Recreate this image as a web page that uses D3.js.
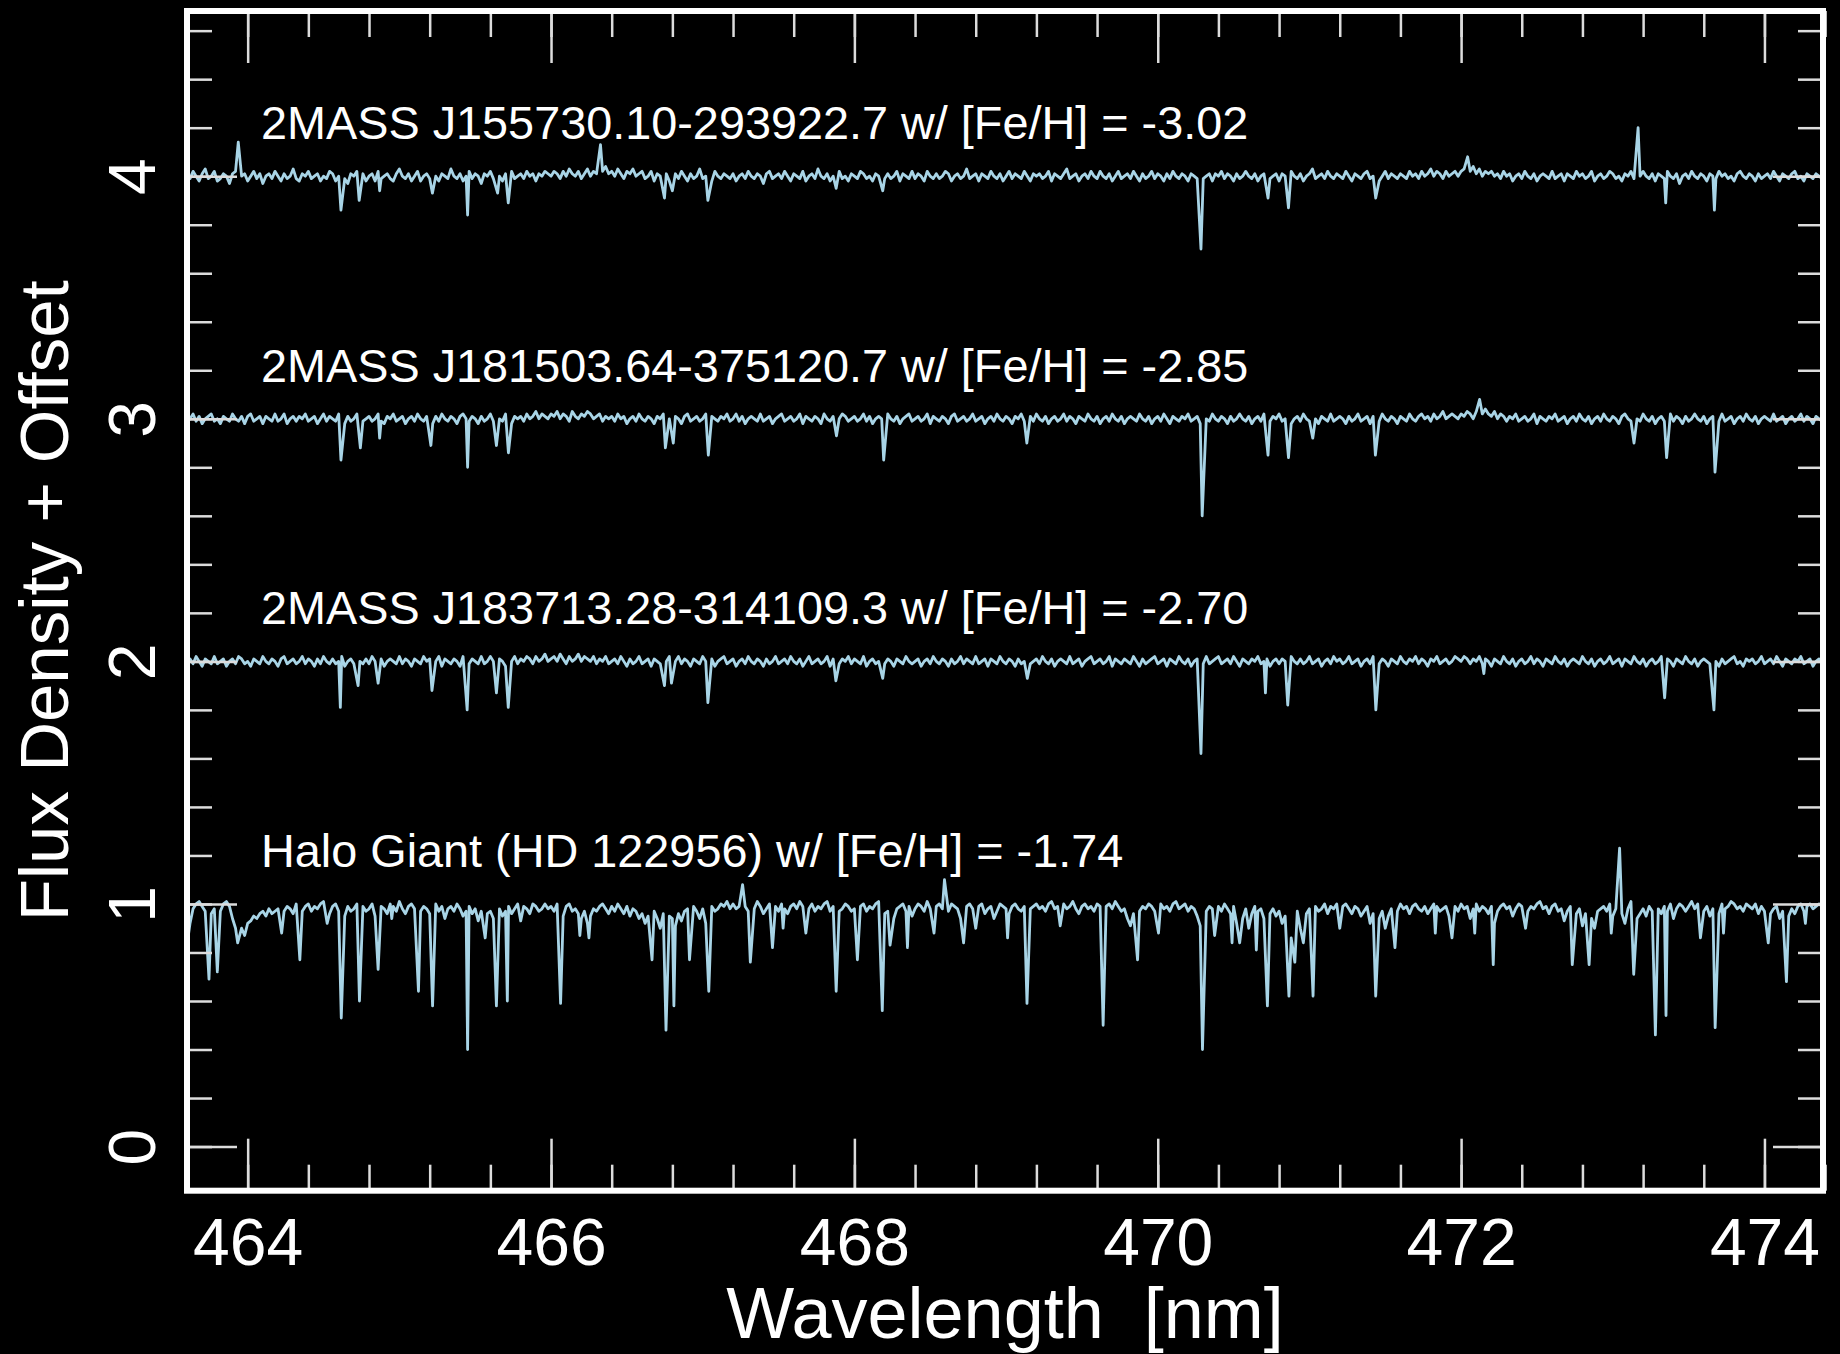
<!DOCTYPE html>
<html>
<head>
<meta charset="utf-8">
<script src="https://cdn.jsdelivr.net/npm/d3@7"></script>
<style>
  body { margin: 0; background: #000; }
  text { font-family: "Liberation Sans", Arial, Helvetica, sans-serif; fill: #fff; }
</style>
</head>
<body>
<script>
// Sampling grid of the continuum (nm)
const gridStart = 463.6, gridStep = 0.02;

// vertical offset of each spectrum
const offsets = [3, 2, 1, 0];

const starLabels = [
    '2MASS J155730.10-293922.7 w/ [Fe/H] = -3.02',
    '2MASS J181503.64-375120.7 w/ [Fe/H] = -2.85',
    '2MASS J183713.28-314109.3 w/ [Fe/H] = -2.70',
    'Halo Giant (HD 122956) w/ [Fe/H] = -1.74'
];

// continuum flux on the grid, in % deviation from 1 (one row = 0.4 nm)
const noiseJ1557 = [
    1,-1,2,0,-2,1,3,-1,0,2,-2,-1,1,0,-3,1,2,-1,0,1,
    -2,0,2,-1,1,-3,0,1,-1,2,0,-2,1,-1,0,3,-1,-2,1,0,
    2,-1,0,1,-2,0,-1,2,1,-2,0,1,-1,-3,1,0,2,-1,1,-2,
    0,1,-2,2,-1,0,1,-1,-2,1,3,0,-1,1,-2,0,2,-2,0,1,
    -1,2,0,-2,1,0,-1,3,0,-1,1,-2,0,2,-1,1,0,-3,1,0,
    2,-1,1,0,-2,1,0,2,-1,0,1,-1,2,0,1,-2,1,0,2,1,
    0,2,1,-1,2,0,3,1,0,2,-1,1,3,0,2,1,-1,2,4,1,
    2,0,3,1,-1,2,1,3,0,1,2,-1,0,2,-2,1,0,-1,1,-2,
    0,1,-1,2,0,-2,1,-1,0,3,-1,0,1,-2,2,0,-1,1,0,-1,
    1,-2,0,1,-1,2,0,-1,1,0,-3,1,2,-1,0,1,-1,2,0,-2,
    1,0,-1,2,-2,0,1,-1,3,0,-1,1,-2,0,1,2,-1,0,-2,1,
    0,-1,2,1,-1,0,-2,1,0,2,-1,1,-1,0,2,-2,1,0,-1,2,
    -1,1,0,-2,2,0,-1,1,-1,0,2,1,-2,0,1,-1,0,3,-1,0,
    1,-2,1,0,-1,2,0,-1,1,-2,0,2,-1,1,0,-1,2,0,-2,1,
    0,1,-1,0,2,-2,1,0,-1,1,3,-1,0,1,-2,0,1,-1,2,0,
    -1,2,0,-1,1,-2,0,2,-1,0,1,-1,2,0,-2,1,-1,0,2,-1,
    1,0,-2,1,-1,2,0,-1,1,0,-2,1,0,-1,2,-1,0,1,-2,1,
    0,2,-1,1,0,-2,1,-1,0,2,0,-1,1,-2,0,1,2,-1,0,1,
    -2,1,0,-1,2,0,-1,1,-2,0,1,3,-1,0,1,-1,2,0,-1,1,
    0,-1,2,0,-2,1,0,-1,1,2,-1,0,1,-2,0,2,-1,1,0,-1,
    1,0,-1,2,0,1,-1,2,0,1,3,0,2,1,-1,2,0,1,2,0,
    2,3,1,2,4,1,3,0,2,1,2,0,1,-1,2,0,1,-2,0,1,
    -1,2,0,-1,1,-2,0,1,0,-1,2,-1,0,1,-2,1,0,-1,2,0,
    1,-1,0,2,-2,0,1,-1,0,2,1,-1,0,-2,1,0,2,-1,1,0,
    2,0,-1,1,-2,1,0,-1,2,0,-1,1,-3,0,1,-1,2,0,-1,1,
    0,-2,1,0,-1,2,0,1,-1,0,-2,1,2,0,-1,1,0,-2,1,-1,
    0,1,-1,2,0,-2,1,0,-1,1,2,-1,0,-2,1,0,-1,1,0,-1,
    0
];
const noiseJ1815 = [
    -1,0,2,-1,1,-2,0,1,2,-1,0,-2,1,0,-1,2,0,-1,1,-2,
    1,2,-1,0,1,-2,1,0,-1,2,-1,0,2,-2,0,1,-1,1,0,2,
    -1,0,1,-2,0,2,-1,1,0,-1,2,0,-2,1,-1,0,2,1,-1,0,
    1,-1,0,2,-1,-2,1,0,2,-1,0,1,-2,0,1,-1,2,0,-1,1,
    0,-2,1,-1,2,0,-1,1,0,-2,1,2,0,-1,1,0,-2,1,-1,0,
    2,-1,1,0,-1,2,0,-2,1,0,1,-1,2,0,1,3,0,2,1,0,
    2,1,3,0,2,1,-1,3,1,0,2,1,3,2,0,1,2,-1,1,0,
    1,-1,2,0,1,-2,0,1,-1,2,0,-1,1,0,-2,1,0,2,-1,0,
    -1,1,0,-2,1,2,-1,0,1,-1,0,2,-2,1,0,-1,1,0,2,-1,
    0,2,-1,1,-2,0,1,0,-1,2,-1,0,1,-2,0,1,2,-1,0,1,
    -1,0,2,-2,1,0,-1,1,0,-2,2,0,-1,1,-1,0,2,1,-1,0,
    1,-1,0,2,-1,1,-2,0,1,0,-1,2,0,-1,1,-2,0,1,2,-1,
    0,1,-1,0,2,-2,1,0,-1,1,0,-2,1,2,-1,0,1,-1,0,2,
    -1,0,1,-2,0,1,-1,2,0,-1,1,0,-2,1,0,2,-1,0,1,-1,
    2,0,-1,1,-2,0,1,-1,0,2,-1,1,0,-2,1,0,-1,2,0,-1,
    1,-2,0,1,-1,2,0,-1,1,-2,0,1,0,-1,2,0,-1,1,-2,0,
    1,-1,2,0,-2,1,0,-1,1,0,2,-1,0,1,-2,1,0,-1,2,0,
    -1,1,0,-2,1,-1,0,2,0,-1,1,-2,0,1,-1,2,0,-1,1,0,
    2,-1,0,1,-2,0,1,-1,2,0,-1,1,0,-2,1,0,-1,2,-1,0,
    1,0,-2,1,-1,0,2,-1,0,1,-2,1,0,-1,2,0,-1,1,0,-2,
    1,0,-1,2,0,-1,1,2,0,1,-1,2,0,1,3,0,1,2,1,0,
    2,1,3,2,0,3,1,2,4,2,1,3,0,2,1,-1,1,0,2,-1,
    0,1,-1,0,2,-2,1,0,-1,1,0,2,-1,0,1,-2,0,1,-1,2,
    0,-1,1,-2,0,1,-1,2,0,-1,1,0,-2,1,2,0,-1,1,0,-1,
    2,0,-1,1,-2,0,1,-1,0,2,-1,1,0,-2,1,-1,0,2,0,-1,
    1,-2,0,1,0,-1,2,-1,0,1,-2,0,1,-1,2,0,-1,1,-2,0,
    1,0,-1,2,-1,0,1,-2,0,1,-1,0,2,-1,1,0,-2,1,0,-1,
    0
];
const noiseJ1837 = [
    0,1,-1,2,0,-2,1,0,-1,2,-1,0,1,-2,0,1,-1,2,1,-1,
    0,-2,1,0,-1,2,0,-1,1,0,-2,1,2,-1,0,1,-1,0,2,-1,
    1,0,-2,1,-1,2,0,-1,1,-1,0,2,-2,0,1,-1,2,0,-1,1,
    -1,2,0,-1,1,-2,0,1,0,-1,2,-1,1,0,-2,1,0,-1,2,0,
    1,-1,0,2,-2,1,0,-1,1,0,-2,2,0,-1,1,0,-1,2,-1,0,
    2,0,-1,1,0,-2,1,0,2,-1,1,0,2,1,-1,2,0,1,3,0,
    1,2,0,3,1,-1,2,0,1,3,0,2,1,0,2,-1,1,0,2,-1,
    0,1,-1,2,0,-2,1,-1,0,2,-1,0,1,-2,1,0,-1,1,0,2,
    -1,0,2,-1,1,0,-2,1,0,-1,2,0,-1,1,-2,0,1,2,-1,0,
    1,-2,0,1,-1,2,0,-1,1,0,-2,1,-1,0,2,-1,0,1,-1,2,
    0,-1,1,-2,0,2,-1,0,1,-1,0,2,-2,1,0,-1,1,0,2,-1,
    1,0,-1,2,-2,0,1,-1,0,2,-1,1,0,-2,1,0,-1,2,0,-1,
    0,1,-2,0,1,-1,2,0,-1,1,0,-2,1,-1,0,2,-1,1,0,-1,
    2,-1,0,1,-2,1,0,-1,2,0,-1,1,0,-2,1,-1,0,2,-1,0,
    1,-1,2,0,-1,1,-2,0,1,0,-1,2,-1,0,1,-2,0,1,2,-1,
    0,1,-1,0,2,-2,1,0,-1,1,0,-1,2,0,-2,1,-1,0,1,2,
    -1,0,1,-2,1,0,-1,2,0,-1,1,-2,0,1,0,-1,2,-1,0,1,
    2,-1,0,1,-1,2,0,-2,1,0,-1,1,0,2,-1,0,1,-2,0,1,
    -1,1,0,-2,2,0,-1,1,-1,0,2,-1,0,1,-2,0,1,-1,2,0,
    1,-1,0,2,-1,0,1,-2,0,1,-1,2,0,-1,1,0,-2,1,0,-1,
    2,0,-1,1,0,2,-1,1,0,-2,1,0,2,-1,0,1,-1,0,2,1,
    0,2,1,-1,1,0,2,-1,1,0,-2,1,0,-1,2,0,-1,1,-2,0,
    1,-1,0,2,-1,1,0,-2,1,0,-1,2,0,-1,1,-2,0,1,0,-1,
    2,0,-1,1,-2,0,1,-1,0,2,-1,0,1,-2,1,0,-1,2,0,-1,
    1,-2,0,1,-1,0,2,-1,1,0,-2,1,0,-1,2,0,-1,1,-2,0,
    1,0,-1,2,0,-2,1,-1,0,1,2,-1,0,-2,1,0,1,-1,0,2,
    -1,0,1,-1,2,0,-2,1,0,-1,1,0,2,-1,0,1,-2,0,1,-1,
    0
];
const noiseHD122956 = [
    -17,-8,-2,0,1,-1,-3,-5,-4,-2,-6,-3,0,1,-1,-6,-10,-12,-10,-9,
    -8,-7,-5,-6,-4,-3,-5,-2,-4,-3,-2,-6,-3,-1,-2,-4,0,-5,-3,-1,
    0,-3,-1,-2,0,1,-2,-4,-1,0,-3,-2,-5,-1,-3,-2,0,-4,-1,-3,
    -2,0,-5,-3,-1,-2,-4,0,-1,-3,1,-2,-4,-1,0,-2,-6,-3,-1,-2,
    -4,-2,0,-3,-1,-5,-2,-1,-3,0,-2,-5,-3,-1,-4,-2,-7,-3,-2,-4,
    -3,-6,-4,-2,-5,-3,-1,-4,-2,0,-3,-1,-2,-4,0,-1,-3,-2,0,-2,
    -1,-3,0,-2,-5,-1,0,-3,-2,-4,-6,-3,-8,-5,-2,-3,-1,0,-2,-4,
    -1,-3,0,-2,-4,-1,-5,-2,-3,-6,-4,-8,-5,-9,-3,-6,-10,-4,-7,-5,
    -6,-9,-4,-7,-3,-2,-4,-1,-3,-6,-2,-8,-4,-1,-3,-2,0,-1,1,-2,
    0,-2,-1,2,-1,-3,0,-2,1,-1,-4,-2,0,-5,-1,-3,0,-2,-4,-1,
    0,-2,1,-1,-5,-2,0,-3,-1,-2,0,1,-3,-1,-6,-3,-2,0,-1,-3,
    -2,-4,-1,0,-3,-1,-2,0,1,-2,-4,-3,-1,-6,-2,-1,0,-3,-1,-5,
    -2,0,-1,-3,1,-2,-4,-1,0,-2,-5,-3,0,-1,-2,-6,-3,-1,0,-2,
    -3,-1,0,-4,-2,-1,-6,-3,0,-1,-2,-4,-1,0,-2,-3,-1,-5,-2,-1,
    0,-2,-1,-3,0,1,-2,-1,-3,0,-2,-1,1,-2,-4,-1,0,-2,-1,-3,
    0,-1,-3,-1,0,-2,1,-1,-3,-2,-6,-9,-4,-7,-3,-1,-2,0,-1,-3,
    -1,0,-2,-1,-3,0,1,-2,-1,0,-3,-1,-2,-5,-9,-6,-3,-1,-2,0,
    -1,-3,0,-2,-4,-1,-8,-16,-6,-2,-10,-4,-1,-3,-2,-6,-10,-4,-2,-5,
    -3,-8,-5,-4,-14,-6,-3,-10,-16,-4,-2,-6,-1,-3,-2,0,-4,-1,-2,0,
    -3,-1,0,-2,-4,-1,-2,-5,-3,-1,-8,-4,-2,-6,-3,-10,-5,-2,-1,-3,
    0,-2,-1,-4,-1,0,-2,-3,-1,-4,-2,0,-1,-3,-2,-1,-5,-2,-1,-3,
    0,-2,-1,-6,-2,0,-3,-1,-2,-4,-1,-8,-3,-1,0,-2,-1,-5,-2,0,
    -1,0,-3,-1,-2,0,1,-2,-1,-4,-1,0,-3,-2,-7,-3,-1,-5,-4,-2,
    -9,-4,-2,-6,-10,-3,-2,-1,-3,0,-5,-2,-1,-4,-8,-2,1,-3,-6,-4,
    -2,-5,-1,-3,0,-2,-4,-1,-3,0,-6,-2,0,-1,-3,-1,1,-2,0,-1,
    -3,-1,-5,-2,-1,-4,0,-2,-1,1,0,-2,-1,-3,0,-1,-2,0,-4,-1,
    -3,-8,-4,-2,-1,-6,-3,-9,-5,-2,-4,-1,0,-3,-1,0,-2,-1,0,-1,
    0
];

// absorption lines and spikes: [wavelength nm, flux %]
const linesJ1557 = [
    [463.938, 114], [464.615, 86], [464.735, 90], [464.87, 94], [465.218, 93],
    [465.45, 84], [465.648, 93], [465.718, 89], [466.326, 113], [466.748, 91],
    [466.80, 94], [467.034, 90], [467.88, 95], [468.187, 94], [470.285, 70],
    [470.727, 91], [470.862, 87], [471.437, 91], [472.043, 108], [473.167, 120],
    [473.349, 89], [473.67, 86]
];
const linesJ1815 = [
    [464.615, 83], [464.743, 88], [464.87, 92], [465.208, 89], [465.45, 80],
    [465.64, 89], [465.719, 86], [466.754, 88], [466.806, 90], [467.037, 85],
    [467.882, 93], [468.193, 83], [469.137, 90], [470.293, 60], [470.727, 85],
    [470.862, 84], [471.022, 92], [471.435, 85], [472.122, 108], [473.14, 90],
    [473.355, 84], [473.674, 78]
];
const linesJ1837 = [
    [464.611, 81], [464.728, 90], [464.86, 91], [465.215, 88], [465.447, 80],
    [465.64, 87], [465.718, 81], [466.748, 90], [466.794, 91], [467.034, 83],
    [467.878, 92], [468.187, 93], [469.14, 93], [470.285, 62], [470.71, 87],
    [470.857, 82], [471.438, 80], [472.15, 95], [473.342, 85], [473.667, 80]
];
const linesHD122956 = [
    [463.745, 69], [463.80, 72], [463.934, 84], [463.98, 87], [464.224, 88],
    [464.344, 77], [464.524, 92], [464.617, 53], [464.737, 60], [464.86, 73],
    [464.95, 94], [465.126, 64], [465.219, 58], [465.30, 94], [465.45, 40],
    [465.566, 86], [465.64, 58], [465.712, 60], [465.80, 93], [466.063, 59],
    [466.19, 87], [466.25, 86], [466.666, 77], [466.758, 48], [466.81, 58],
    [466.913, 77], [467.04, 64], [467.263, 108], [467.314, 76], [467.46, 82],
    [467.53, 90], [467.68, 88], [467.88, 64], [468.02, 77], [468.184, 56],
    [468.235, 83], [468.35, 82], [468.525, 88], [468.594, 110], [468.72, 84],
    [468.80, 90], [469.01, 86], [469.138, 59], [469.357, 91], [469.64, 50],
    [469.867, 77], [470.005, 88], [470.295, 40], [470.375, 87], [470.49, 84],
    [470.65, 81], [470.723, 58], [470.865, 62], [470.904, 76], [471.024, 62],
    [471.20, 90], [471.437, 62], [471.564, 82], [471.83, 88], [471.94, 86],
    [472.09, 88], [472.212, 75], [472.425, 90], [472.733, 75], [472.844, 75],
    [472.99, 88], [473.045, 123], [473.138, 71], [473.281, 46], [473.351, 54],
    [473.578, 86], [473.675, 49], [473.73, 88], [474.025, 84], [474.145, 68],
    [474.27, 92]
];

const xTickLabels = [464, 466, 468, 470, 472, 474];
const yTickLabels = [0, 1, 2, 3, 4];

const margin = { top: 11, right: 17, bottom: 163.3, left: 187 };
const width = 1840 - margin.left - margin.right;
const height = 1354 - margin.top - margin.bottom;

const svg = d3.select('body').append('svg')
    .attr('width', 1840)
    .attr('height', 1354)
    .style('display', 'block');

svg.append('rect').attr('width', 1840).attr('height', 1354).attr('fill', '#000');

const g = svg.append('g')
    .attr('transform', `translate(${margin.left},${margin.top})`);

const xScale = d3.scaleLinear().domain([463.60, 474.386]).range([0, width]);
const yScale = d3.scaleLinear().domain([-0.182, 4.681]).range([height, 0]);

svg.append('defs').append('clipPath').attr('id', 'plot')
    .append('rect').attr('width', width).attr('height', height);

// merge the continuum grid with the line points
function buildSeries(noise, lines) {
    const grid = noise.map((d, i) => [gridStart + i * gridStep, 1 + d / 100])
        .filter(p => !lines.some(l => Math.abs(l[0] - p[0]) < 0.008));
    return grid.concat(lines.map(l => [l[0], l[1] / 100]))
        .sort((a, b) => a[0] - b[0]);
}

const stars = [
    { label: starLabels[0], offset: offsets[0], data: buildSeries(noiseJ1557, linesJ1557) },
    { label: starLabels[1], offset: offsets[1], data: buildSeries(noiseJ1815, linesJ1815) },
    { label: starLabels[2], offset: offsets[2], data: buildSeries(noiseJ1837, linesJ1837) },
    { label: starLabels[3], offset: offsets[3], data: buildSeries(noiseHD122956, linesHD122956) }
];

const plot = g.append('g').attr('clip-path', 'url(#plot)');

stars.forEach(s => {
    const line = d3.line()
        .x(d => xScale(d[0]))
        .y(d => yScale(d[1] + s.offset));
    plot.append('path')
        .datum(s.data)
        .attr('fill', 'none')
        .attr('stroke', '#a8d4e6')
        .attr('stroke-width', 2.8)
        .attr('stroke-linejoin', 'round')
        .attr('d', line);

    g.append('text')
        .attr('x', xScale(464.088))
        .attr('y', yScale(s.offset + 1.153))
        .style('font-size', '46.8px')
        .text(s.label);
});

// ticks on all four sides, pointing inwards
const xMinor = d3.range(463.6, 474.5, 0.4);
const yMinor = d3.range(0, 4.7, 0.2);
const tickStyle = sel => {
    sel.select('.domain').remove();
    sel.selectAll('line').attr('stroke', '#dcdcdc').attr('stroke-width', 2.5);
};

g.append('g').attr('transform', `translate(0,${height})`)
    .call(d3.axisBottom(xScale).tickValues(xMinor).tickSize(-26).tickFormat(''))
    .call(tickStyle);
g.append('g')
    .call(d3.axisTop(xScale).tickValues(xMinor).tickSize(-26).tickFormat(''))
    .call(tickStyle);
g.append('g')
    .call(d3.axisTop(xScale).tickValues(xTickLabels).tickSize(-52).tickFormat(''))
    .call(tickStyle);
g.append('g').attr('transform', `translate(0,${height})`)
    .call(d3.axisBottom(xScale).tickValues(xTickLabels).tickSize(-52).tickFormat(d3.format('d')))
    .call(tickStyle)
    .call(ax => ax.selectAll('text')
        .attr('y', 74).attr('dy', null)
        .attr('fill', '#fff')
        .style('font-size', '66px'));

g.append('g')
    .call(d3.axisLeft(yScale).tickValues(yMinor).tickSize(-25).tickFormat(''))
    .call(tickStyle);
g.append('g').attr('transform', `translate(${width},0)`)
    .call(d3.axisRight(yScale).tickValues(yMinor).tickSize(-25).tickFormat(''))
    .call(tickStyle);
g.append('g').attr('transform', `translate(${width},0)`)
    .call(d3.axisRight(yScale).tickValues(yTickLabels).tickSize(-50).tickFormat(''))
    .call(tickStyle);
g.append('g')
    .call(d3.axisLeft(yScale).tickValues(yTickLabels).tickSize(-50).tickFormat(d3.format('d')))
    .call(tickStyle)
    .call(ax => ax.selectAll('text')
        .attr('x', null).attr('dy', null)
        .attr('transform', 'translate(-32,0) rotate(-90)')
        .attr('text-anchor', 'middle')
        .attr('fill', '#fff')
        .style('font-size', '66px'));

// frame
g.append('rect')
    .attr('width', width)
    .attr('height', height)
    .attr('fill', 'none')
    .attr('stroke', '#fff')
    .attr('stroke-width', 6);

// axis titles
g.append('text')
    .attr('x', width / 2)
    .attr('y', 1337.8 - margin.top)
    .attr('text-anchor', 'middle')
    .style('font-size', '72px')
    .style('white-space', 'pre')
    .text('Wavelength  [nm]');

g.append('text')
    .attr('transform', `translate(${68 - margin.left},${height / 2}) rotate(-90)`)
    .attr('text-anchor', 'middle')
    .style('font-size', '69px')
    .text('Flux Density + Offset');
</script>
</body>
</html>
